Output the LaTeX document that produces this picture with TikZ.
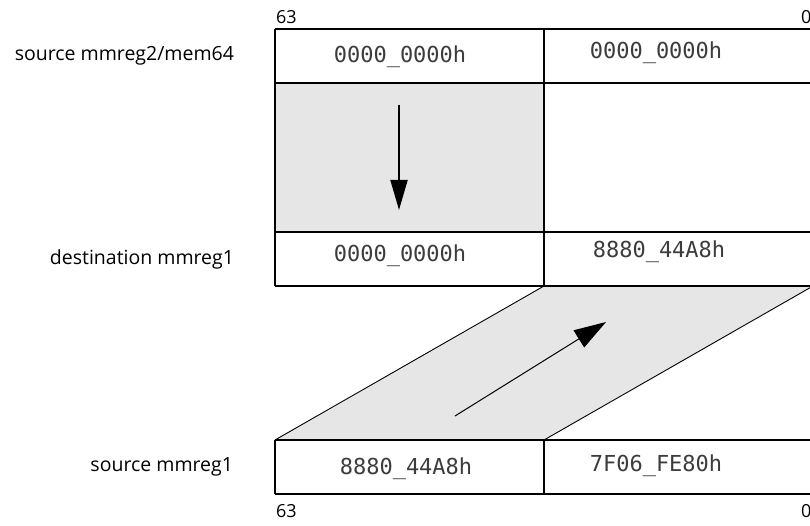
\documentclass[tikz,border=0pt]{standalone}
\usepackage{fontspec}
\setmainfont{Open Sans}
\newfontfamily\hexfont{DejaVu Sans Mono}
\usetikzlibrary{arrows.meta}

\tikzset{every picture/.style={line width=2pt}}
\tikzset{
  cellline/.style={line width=2pt},
  slantline/.style={line width=0.9pt},
  greyfill/.style={fill={rgb, 255:red, 230; green, 230; blue, 230}, draw=none},
  hexval/.style={inner sep=0pt, font=\hexfont\fontsize{22}{25}\selectfont, text={rgb, 255:red, 60; green, 60; blue, 60}},
  reglabel/.style={anchor=east, inner sep=0pt, font=\fontsize{19.5}{23}\selectfont},
  bitno/.style={inner sep=0pt, font=\fontsize{18}{21}\selectfont}
}

\begin{document}
\begin{tikzpicture}[x=1pt,y=1pt,yscale=-1,xscale=1]
\useasboundingbox (0,0) rectangle (810,526);

%Shape: grey fills
\fill [greyfill] (275,83) -- (544,83) -- (544,232) -- (275,232) -- cycle ;
\fill [greyfill] (544,286) -- (813,286) -- (544,440) -- (275,440) -- cycle ;
%Straight Lines: slanted sides
\draw [slantline] (544,286) -- (275,440) ;
\draw [slantline] (813,286) -- (544,440) ;

%Shape: upper register frame
\draw [cellline] (275,29) -- (813,29) ;
\draw [cellline] (275,83) -- (813,83) ;
\draw [cellline] (275,232) -- (813,232) ;
\draw [cellline] (275,286) -- (813,286) ;
\draw [cellline] (275,29) -- (275,286) ;
\draw [cellline] (544,29) -- (544,286) ;
%Shape: lower register frame
\draw [cellline] (275,440) -- (813,440) ;
\draw [cellline] (275,494) -- (813,494) ;
\draw [cellline] (275,440) -- (275,494) ;
\draw [cellline] (544,440) -- (544,494) ;

%Straight Lines: move arrows
\coordinate (downstart) at (399,105) ;
\coordinate (downend) at (399,210) ;
\draw [line width=2pt, -{Triangle[length=30pt,width=17pt]}] (downstart) -- (downend) ;
\coordinate (upstart) at (455,416) ;
\coordinate (upend) at (606,322) ;
\draw [line width=1pt, -{Triangle[length=32pt,width=20pt]}] (upstart) -- (upend) ;

% Text Node
\node [hexval] (srchi) at (400,57) {0000\_0000h};
% Text Node
\node [hexval] (srclo) at (656,53) {0000\_0000h};
% Text Node
\node [hexval] (dsthi) at (400,256) {0000\_0000h};
% Text Node
\node [hexval] (dstlo) at (659,252) {8880\_44A8h};
% Text Node
\node [hexval] (onehi) at (406,469) {8880\_44A8h};
% Text Node
\node [hexval] (onelo) at (656,466) {7F06\_FE80h};
% Text Node
\node [reglabel] (lblsrc) at (235,56) {source mmreg2/mem64};
% Text Node
\node [reglabel] (lbldst) at (235,259) {destination mmreg1};
% Text Node
\node [reglabel] (lblone) at (234,467) {source mmreg1};
% Text Node
\node [bitno, anchor=west] (tophi) at (275,17) {63};
% Text Node
\node [bitno, anchor=west] (toplo) at (800,17) {0};
% Text Node
\node [bitno, anchor=west] (bothi) at (275,511) {63};
% Text Node
\node [bitno, anchor=west] (botlo) at (800,511) {0};

\end{tikzpicture}
\end{document}
